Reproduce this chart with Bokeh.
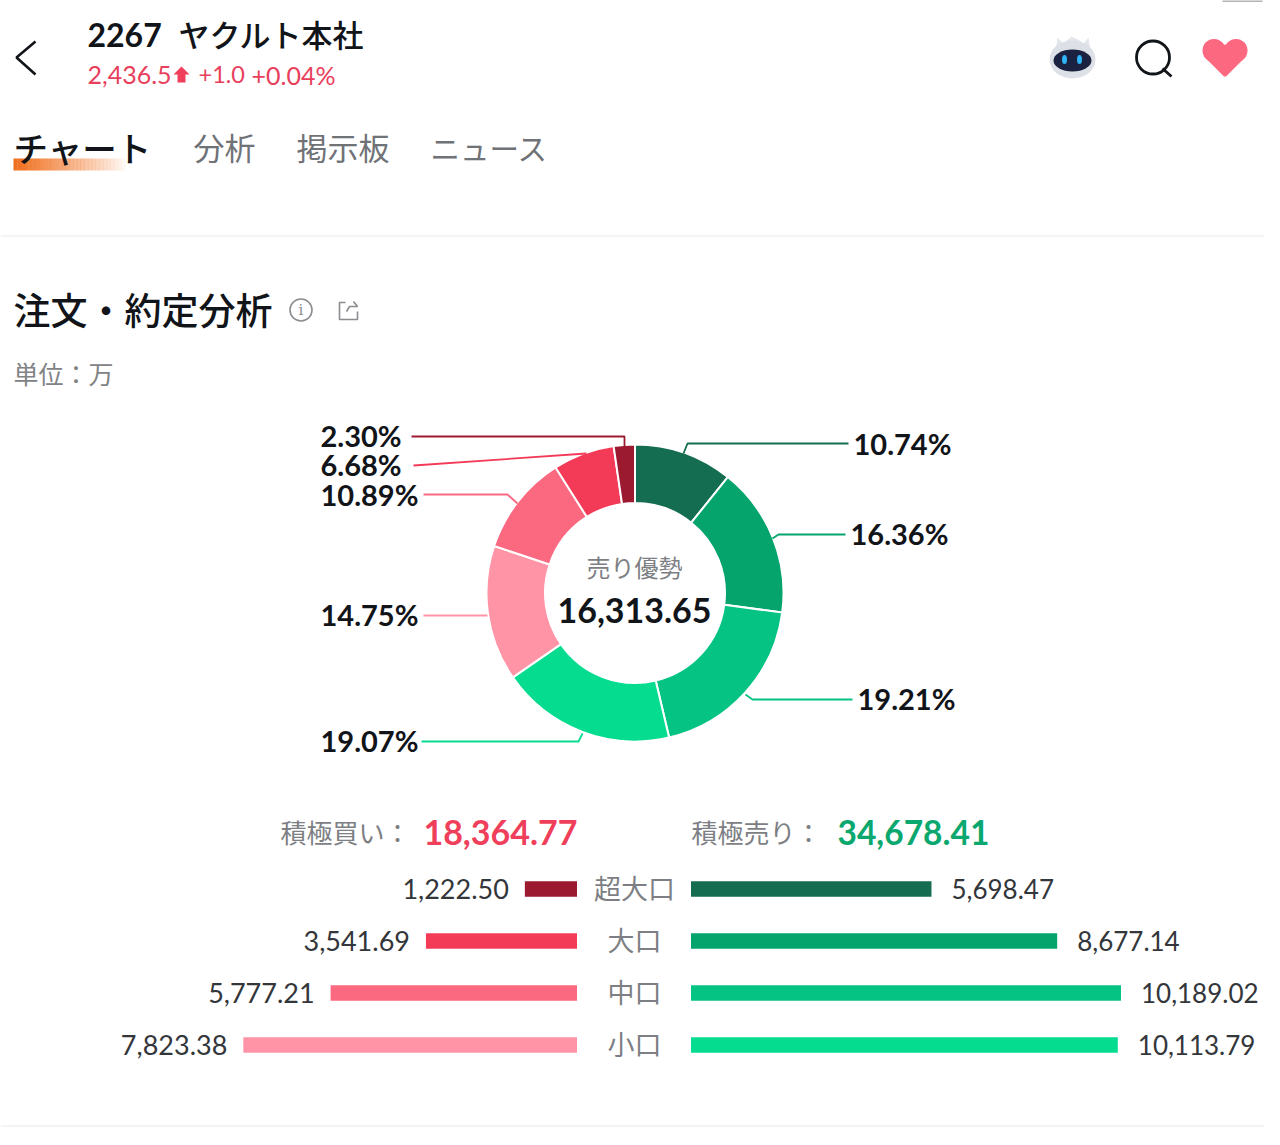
import numpy as np
from bokeh.plotting import figure
from bokeh.models import Range1d
from bokeh.core.properties import value
from bokeh.embed import file_html
from bokeh.resources import INLINE

# ---- data ----
ticker = "2267"
name = "ヤクルト本社"
tabs = ["チャート", "分析", "掲示板", "ニュース"]
sizes = ["超大口", "大口", "中口", "小口"]
buy_values = [1222.50, 3541.69, 5777.21, 7823.38]
sell_values = [5698.47, 8677.14, 10189.02, 10113.79]
buy_total = 18364.77
sell_total = 34678.41
net_value = 16313.65
slice_percent = [10.74, 16.36, 19.21, 19.07, 14.75, 10.89, 6.68, 2.30]

GREENS = ["#146d50", "#04a46c", "#04c383", "#05dc90"]
REDS = ["#9b1a30", "#f33b58", "#fb6981", "#fe94a5"]
SLICE_COLORS = GREENS + REDS[::-1]
JP = "Noto Sans CJK JP"
JPM = '"Noto Sans CJK JP Medium", "Noto Sans CJK JP"'
NUM = "Lato"
DARK = "#111418"
GREY = "#7d7f84"

W, H = 1264, 1129
p = figure(width=W, height=H, output_backend="svg", toolbar_location=None,
           x_range=Range1d(0, W), y_range=Range1d(H, 0),
           min_border=0, outline_line_color=None, background_fill_color="white",
           border_fill_color="white")
p.axis.visible = False
p.grid.visible = False

SELL_ZERO, SELL_K = 690.5, 0.0422
BUY_ZERO, BUY_K = 576.5, 0.04265
p.extra_x_ranges = {
    "sell": Range1d(-SELL_ZERO / SELL_K, (W - SELL_ZERO) / SELL_K),
    "buy": Range1d(BUY_ZERO / BUY_K, (BUY_ZERO - W) / BUY_K),
}


def txt(x, y, s, size, color=DARK, align="left", font=JP, style="normal", **kw):
    p.text(x=[x], y=[y], text=[s], text_font=value(font), text_font_size=f"{size}px",
           text_color=color, text_align=align, text_baseline="middle",
           text_font_style=style, **kw)


# ---- header ----
p.line([1222, 1262], [0.5, 0.5], line_color="#9a9a9a", line_width=1.5)
p.line([35, 16, 35], [41, 57, 74], line_color=DARK, line_width=2.6)
txt(87, 34.5, ticker, 32, style="bold", font=NUM)
txt(178, 33, name, 31, font=JPM)
txt(87, 74, "2,436.5", 25, "#e8405c", font=NUM)
p.patch([181, 189, 185, 185, 177, 177, 173], [66, 74, 74, 82, 82, 74, 74], fill_color="#ef3f5b", line_color=None)
txt(198, 74, "+1.0", 23.5, "#e8405c", font=NUM)
txt(251, 74, "+0.04%", 25, "#e8405c", font=NUM)

# robot
p.patch([1055, 1057, 1063, 1071, 1079, 1083, 1088, 1090, 1093, 1089],
        [51, 37, 43, 36, 40, 43, 37, 51, 53, 59], fill_color="#e3e6ea", line_color=None)
p.ellipse(x=[1072], y=[59], width=[46], height=[38], fill_color="#dde1e7", line_color=None,
          width_units="screen", height_units="screen")
p.ellipse(x=[1072], y=[60], width=[38], height=[22], fill_color="#1b2140", line_color=None,
          width_units="screen", height_units="screen")
p.ellipse(x=[1064, 1079], y=[59, 59], width=[5, 5], height=[9, 9], fill_color="#2fb5f6", line_color=None,
          width_units="screen", height_units="screen")
# search
p.scatter(x=[1152.5], y=[57], size=33, marker="circle", fill_color=None, line_color=DARK, line_width=2.8)
p.line([1162, 1171], [68, 76], line_color=DARK, line_width=2.8)
# heart
p.scatter(x=[1213.5, 1235.5], y=[50, 50], size=23, marker="circle", fill_color="#fb6880", line_color=None)
p.patch([1203.5, 1224.5, 1245.5, 1245.5, 1225.5, 1223.5, 1203.5], [50, 44, 50, 56, 76, 76, 56],
        fill_color="#fb6880", line_color=None)

# ---- tabs ----
n = 30
xs = np.linspace(13, 125, n + 1)
for i in range(n):
    a = 1 - i / n
    p.quad(left=[xs[i]], right=[xs[i + 1] + 0.3], top=[158], bottom=[170],
           fill_color="#f0701f", fill_alpha=float(a ** 0.9), line_color=None)
txt(13, 146, tabs[0], 34.5, font=JPM)
txt(193, 146, tabs[1], 31, "#6f7277")
txt(296, 146, tabs[2], 31, "#6f7277")
txt(430, 146, tabs[3], 29.5, "#6f7277")
p.line([0, W], [235.5, 235.5], line_color="#e9eaec", line_width=1.2)

# ---- section title ----
txt(13, 308, "注文・約定分析", 37, font=JPM)
p.scatter(x=[300.5], y=[309.5], size=22, marker="circle", fill_color=None, line_color="#8a8c90", line_width=1.6)
txt(300.5, 309.5, "i", 15, "#8a8c90", align="center", font="DejaVu Serif")
p.line([345, 339, 339, 357, 357], [302, 302, 319, 319, 311], line_color="#8a8c90", line_width=1.6)
p.line([346, 349, 357, 353], [311, 306, 306, 301], line_color="#8a8c90", line_width=1.6)
txt(13, 372, "単位：万", 25, "#808285")

# ---- donut ----
pct = np.array(slice_percent)
cum = np.concatenate([[0], np.cumsum(pct)]) / pct.sum()
start = np.pi / 2 - cum[:-1] * 2 * np.pi
end = np.pi / 2 - cum[1:] * 2 * np.pi
p.annular_wedge(x=[634.5] * len(pct), y=[592.5] * len(pct), inner_radius=90, outer_radius=148.5,
                inner_radius_units="screen", outer_radius_units="screen",
                start_angle=start, end_angle=end, direction="clock",
                fill_color=SLICE_COLORS, line_color="white", line_width=2)
txt(634, 565.5, "売り優勢", 24, GREY, align="center")
txt(634, 610, f"{net_value:,.2f}", 34, DARK, align="center", font=NUM, style="bold")

leaders = [
    ([848, 687, 683], [443, 443, 453]),
    ([845, 778, 772], [534, 534, 538]),
    ([852, 752, 745], [699, 699, 694]),
    ([421, 578, 582], [741, 741, 733]),
    ([423, 487], [615, 615]),
    ([423, 507, 517], [494, 494, 503]),
    ([413, 586], [465, 453]),
    ([411, 624, 624], [436, 436, 447]),
]
for (lx, ly), c in zip(leaders, SLICE_COLORS):
    p.line(lx, ly, line_color=c, line_width=1.8)
label_pos = [(853, 443, "left"), (850, 533, "left"), (857, 698, "left"), (320, 740, "left"),
             (320, 614, "left"), (320, 494, "left"), (320, 464, "left"), (320, 435, "left")]
for v, (x, y, a) in zip(slice_percent, label_pos):
    txt(x, y, f"{v:.2f}%", 29, DARK, align=a, font=NUM, style="bold")

# ---- totals ----
txt(280, 830.5, "積極買い：", 26, GREY)
txt(577, 832, f"{buy_total:,.2f}", 34, "#ef3f5b", align="right", font=NUM, style="bold")
txt(691, 830.5, "積極売り：", 26, GREY)
txt(837, 832, f"{sell_total:,.2f}", 33.5, "#0aa76e", font=NUM, style="bold")

# ---- bars ----
rows = [888.5 + 52 * i for i in range(len(sizes))]
label_rows = [r - 0.5 for r in rows]
jp_rows = [r - 2 for r in rows]
p.hbar(y=rows, left=0, right=buy_values, height=15.5, fill_color=REDS, line_color=None, x_range_name="buy")
p.hbar(y=rows, left=0, right=sell_values, height=15.5, fill_color=GREENS, line_color=None, x_range_name="sell")
p.text(x=buy_values, y=label_rows, text=[f"{v:,.2f}" for v in buy_values], x_range_name="buy", x_offset=-16,
       text_font=value(NUM), text_font_size="27px", text_color="#33363a", text_align="right", text_baseline="middle")
p.text(x=sell_values, y=label_rows, text=[f"{v:,.2f}" for v in sell_values], x_range_name="sell", x_offset=20,
       text_font=value(NUM), text_font_size="26px", text_color="#33363a", text_align="left", text_baseline="middle")
p.text(x=[634] * 4, y=jp_rows, text=sizes, text_font=value(JP), text_font_size="27px", text_color=GREY,
       text_align="center", text_baseline="middle")
p.line([0, W], [1125.5, 1125.5], line_color="#e9eaec", line_width=1.2)

open("out.html", "w").write(file_html(p, INLINE))
